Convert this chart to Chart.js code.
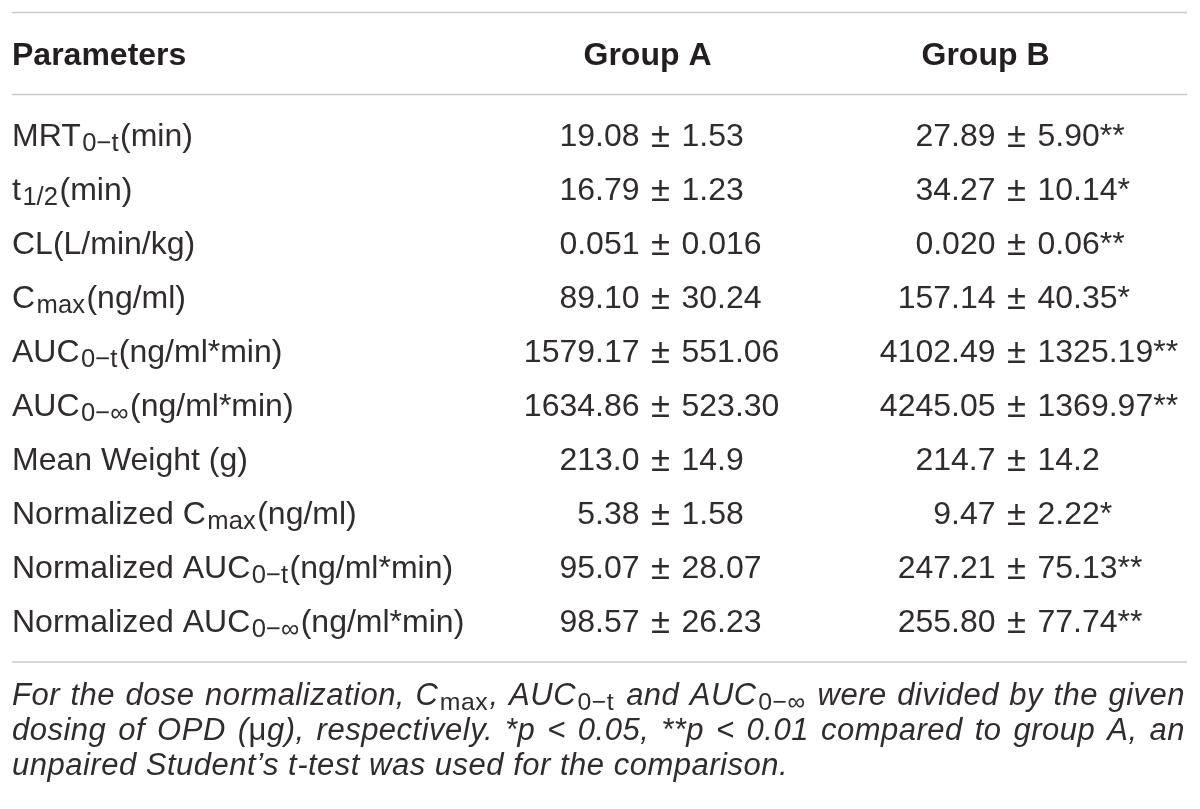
<!DOCTYPE html>
<html>
<head>
<meta charset="utf-8">
<script src="https://cdn.jsdelivr.net/npm/chart.js@4/dist/chart.umd.min.js"></script>
<style>
html,body{margin:0;padding:0;background:#ffffff;}
#wrap{width:1200px;height:809px;position:relative;overflow:hidden;}
canvas{display:block;}
</style>
</head>
<body>
<div id="wrap"><canvas id="c" width="1200" height="809"></canvas></div>
<script>
// ---------- DATA ----------
const columns = ['Parameters', 'Group A', 'Group B'];
const parameters = [
  'MRT_{0−t}(min)',
  't_{1/2}(min)',
  'CL(L/min/kg)',
  'C_{max}(ng/ml)',
  'AUC_{0−t}(ng/ml*min)',
  'AUC_{0−∞}(ng/ml*min)',
  'Mean Weight (g)',
  'Normalized C_{max}(ng/ml)',
  'Normalized AUC_{0−t}(ng/ml*min)',
  'Normalized AUC_{0−∞}(ng/ml*min)'
];
const groupAMean = ['19.08', '16.79', '0.051', '89.10', '1579.17', '1634.86', '213.0', '5.38', '95.07', '98.57'];
const groupASD   = ['1.53', '1.23', '0.016', '30.24', '551.06', '523.30', '14.9', '1.58', '28.07', '26.23'];
const groupBMean = ['27.89', '34.27', '0.020', '157.14', '4102.49', '4245.05', '214.7', '9.47', '247.21', '255.80'];
const groupBSD   = ['5.90', '10.14', '0.06', '40.35', '1325.19', '1369.97', '14.2', '2.22', '75.13', '77.74'];
const groupBSig  = ['**', '*', '**', '*', '**', '**', '', '*', '**', '**'];
const footnoteLines = [
  'For the dose normalization, C_{max}, AUC_{0−t} and AUC_{0−∞} were divided by the given',
  'dosing of OPD (~{μ}g), respectively. *p < 0.05, **p < 0.01 compared to group A, an',
  'unpaired Student’s t-test was used for the comparison.'
];
const footnoteJustify = [true, true, false];

// ---------- STYLE / LAYOUT ----------
const TEXT = '#302c2d';
const HEAD_TEXT = '#231f20';
const RULE = '#c9c9c9';
const BODY_FAMILY = '"Liberation Sans", Arimo, "DejaVu Sans", sans-serif';
const HEAD_FAMILY = '"Liberation Sans", Arimo, sans-serif';
const layout = {
  tableLeft: 12, tableRight: 1187,
  bodySize: 32, bodyWeight: 'normal',
  headSize: 32,
  footSize: 31, footLetterSpacing: 0.5,
  subScale: 0.8, subGap: 1.5,
  baselineInRow: 11,
  headerBaseline: -43,     // relative to chartArea.top
  topRule: -95.5, headRule: -13.5, bottomRule: 14,
  footBaselines: [57, 92, 127], // relative to chartArea.bottom
  footRight: 1185,
  pmShift: [0, 13, 31],    // ± anchor relative to column center
  pmScale: 1.08,           // ± glyph size relative to body
  pmGap: 21                // distance from ± centre to the numbers
};

// ---------- RICH TEXT ----------
function parseRich(s) {
  const segs = [];
  const re = /(_\{[^}]*\}|~\{[^}]*\})/g;
  let last = 0, m;
  while ((m = re.exec(s))) {
    if (m.index > last) segs.push({ t: s.slice(last, m.index) });
    const inner = m[0].slice(2, -1);
    segs.push(m[0][0] === '_' ? { t: inner, sub: true } : { t: inner, up: true });
    last = re.lastIndex;
  }
  if (last < s.length) segs.push({ t: s.slice(last) });
  return segs;
}
function segFont(seg, base) {
  const size = seg.sub ? base.size * layout.subScale : base.size;
  const style = (seg.sub || seg.up) ? 'normal' : base.style;
  return `${style} ${base.weight} ${size}px ${base.family}`;
}
function segShift(seg, base) { return seg.sub ? base.size * 0.15 : 0; }
function tokens(segs) {
  const out = [];
  segs.forEach(seg => {
    seg.t.split(/( )/).forEach(p => {
      if (p === '') return;
      out.push(Object.assign({}, seg, { t: p, space: p === ' ' }));
    });
  });
  return out;
}
function tokWidth(ctx, tk, base) {
  ctx.font = segFont(tk, base);
  return ctx.measureText(tk.t).width + (tk.sub ? layout.subGap * 2 : 0);
}
function measureRich(ctx, toks, base) {
  let w = 0;
  toks.forEach(tk => { w += tokWidth(ctx, tk, base); });
  return w;
}
function drawRich(ctx, toks, x, y, base, extraPerSpace) {
  let cx = x;
  toks.forEach(tk => {
    const w = tokWidth(ctx, tk, base);
    ctx.font = segFont(tk, base);
    if (!tk.space) ctx.fillText(tk.t, cx + (tk.sub ? layout.subGap : 0), y + segShift(tk, base));
    cx += w + (tk.space ? (extraPerSpace || 0) : 0);
  });
  return cx;
}

// ---------- TABLE PLUGIN ----------
const tablePlugin = {
  id: 'tablePlugin',
  afterDatasetsDraw(chart) {
    const ctx = chart.ctx;
    const area = chart.chartArea;
    const xs = chart.scales.x;
    const L = layout;
    const body = { style: 'normal', weight: L.bodyWeight, size: L.bodySize, family: BODY_FAMILY };
    const bodyFont = `${L.bodyWeight} ${L.bodySize}px ${BODY_FAMILY}`;
    const pmFont = `${L.bodyWeight} ${L.bodySize * L.pmScale}px ${BODY_FAMILY}`;
    ctx.save();
    ctx.textBaseline = 'alphabetic';

    // rules
    ctx.strokeStyle = RULE;
    ctx.lineWidth = 1.6;
    [area.top + L.topRule, area.top + L.headRule, area.bottom + L.bottomRule].forEach(y => {
      ctx.beginPath(); ctx.moveTo(L.tableLeft, y); ctx.lineTo(L.tableRight, y); ctx.stroke();
    });

    // header (from the x scale labels)
    ctx.fillStyle = HEAD_TEXT;
    ctx.font = `bold ${L.headSize}px ${HEAD_FAMILY}`;
    const hy = area.top + L.headerBaseline;
    xs.getLabels().forEach((lab, i) => {
      if (i === 0) { ctx.textAlign = 'left'; ctx.fillText(lab, L.tableLeft, hy); }
      else { ctx.textAlign = 'center'; ctx.fillText(lab, xs.getPixelForValue(i), hy); }
    });
    ctx.textAlign = 'left';
    ctx.fillStyle = TEXT;

    // cells positioned by dataset elements
    chart.data.datasets.forEach((ds, di) => {
      const meta = chart.getDatasetMeta(di);
      meta.data.forEach((el, i) => {
        const y = el.y + L.baselineInRow;
        if (di === 0) {
          drawRich(ctx, tokens(parseRich(parameters[i])), L.tableLeft, y, body, 0);
        } else {
          const mean = di === 1 ? groupAMean[i] : groupBMean[i];
          const sd = di === 1 ? groupASD[i] : groupBSD[i];
          const sig = di === 2 ? groupBSig[i] : '';
          const pmX = el.x + L.pmShift[di];
          ctx.font = bodyFont;
          ctx.textAlign = 'right';
          ctx.fillText(mean, pmX - L.pmGap, y);
          ctx.textAlign = 'left';
          ctx.fillText(sd + sig, pmX + L.pmGap, y);
          ctx.font = pmFont;
          ctx.textAlign = 'center';
          ctx.fillText('±', pmX, y + 0.5);
          ctx.textAlign = 'left';
        }
      });
    });

    // footnote
    const foot = { style: 'italic', weight: 'normal', size: L.footSize, family: BODY_FAMILY };
    if ('letterSpacing' in ctx) ctx.letterSpacing = L.footLetterSpacing + 'px';
    footnoteLines.forEach((line, li) => {
      const toks = tokens(parseRich(line));
      const nat = measureRich(ctx, toks, foot);
      const nSp = toks.filter(t => t.space).length;
      let extra = 0;
      if (footnoteJustify[li] && nSp > 0) extra = (L.footRight - L.tableLeft - nat) / nSp;
      drawRich(ctx, toks, L.tableLeft, area.bottom + L.footBaselines[li], foot, extra);
    });
    if ('letterSpacing' in ctx) ctx.letterSpacing = '0px';
    ctx.restore();
  }
};

function makeDataset(col) {
  return {
    label: col,
    data: parameters.map(p => ({ x: col, y: p })),
    pointRadius: 0, pointHoverRadius: 0, showLine: false
  };
}

function build() {
  new Chart(document.getElementById('c'), {
    type: 'scatter',
    data: { datasets: columns.map(makeDataset) },
    options: {
      responsive: false,
      animation: false,
      events: [],
      layout: { padding: { top: 108, bottom: 161, left: 140.5, right: 45.5 } },
      scales: {
        x: { type: 'category', labels: columns, offset: true, display: false },
        y: { type: 'category', labels: parameters, offset: true, display: false }
      },
      plugins: { legend: { display: false }, tooltip: { enabled: false } }
    },
    plugins: [tablePlugin]
  });
}
const fontLoads = [
  '32px "Liberation Sans"', 'italic 31px "Liberation Sans"', 'bold 32px "Liberation Sans"'
].map(f => document.fonts.load(f).catch(() => null));
Promise.race([Promise.all(fontLoads), new Promise(r => setTimeout(r, 1500))]).then(build, build);
</script>
</body>
</html>
